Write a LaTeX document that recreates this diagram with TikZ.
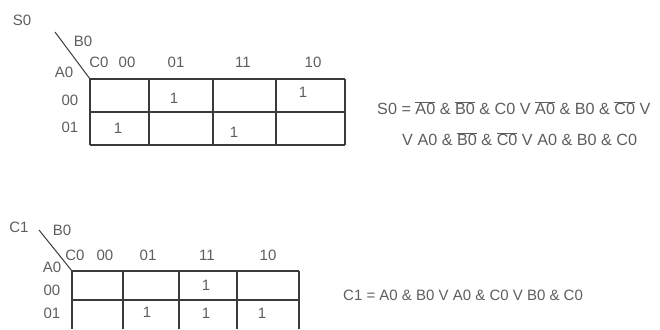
\documentclass[tikz,border=0pt]{standalone}
\usepackage{fontspec}
\setmainfont{Liberation Sans}
\definecolor{txtgray}{HTML}{5E5E5E}
\definecolor{linegray}{HTML}{3A3A3A}
\newcommand{\ov}[1]{$\overline{\mbox{#1}}$}
\tikzset{
  lbl/.style={text=txtgray, inner sep=0pt, font=\fontsize{15}{17}\selectfont},
  eqn/.style={lbl, anchor=west},
  grid line/.style={draw=linegray, line width=1.3pt}
}
\begin{document}
\begin{tikzpicture}[x=1pt, y=-1pt]
		\useasboundingbox (0,0) rectangle (660,329);
		
		% Map S0
		\node[lbl] (s0) at (22, 20) {S0};
		\coordinate (s0corner) at (90, 79);
		\draw[grid line, line width=1pt] (55, 32) -- (s0corner);
		\node[lbl] (s0b) at (83, 41) {B0};
		\node[lbl] (s0c) at (99, 62) {C0};
		\node[lbl] (s0a) at (64, 72) {A0};
		\foreach \x/\t in {127/00, 176/01, 243/11, 313/10}
			\node[lbl] (s0col\t) at (\x, 62) {\t};
		\foreach \y/\t in {100/00, 127/01}
			\node[lbl] (s0row\t) at (70, \y) {\t};
		\foreach \y in {79, 112, 145}
			\draw[grid line] (90, \y) -- (345, \y);
		\foreach \x in {90, 149, 213, 276, 345}
			\draw[grid line] (\x, 79) -- (\x, 145);
		\foreach \x/\y/\n in {174/98/a, 303/92/b, 118/128/c, 234/132/d}
			\node[lbl] (s0one\n) at (\x, \y) {1};
		\node[eqn, font=\fontsize{16.2}{18}\selectfont] (s0eqa) at (377, 108) {S0 = \ov{A0} \& \ov{B0} \& C0 V \ov{A0} \& B0 \& \ov{C0} V};
		\node[eqn, font=\fontsize{16.2}{18}\selectfont] (s0eqb) at (402, 139) {V A0 \& \ov{B0} \& \ov{C0} V A0 \& B0 \& C0};
		
		% Map C1
		\node[lbl] (c1) at (19, 227) {C1};
		\coordinate (c1corner) at (72, 271);
		\draw[grid line, line width=1pt] (39, 230) -- (c1corner);
		\node[lbl] (c1b) at (62, 230) {B0};
		\node[lbl] (c1c) at (75, 255) {C0};
		\node[lbl] (c1a) at (52, 267) {A0};
		\foreach \x/\t in {105/00, 148/01, 207/11, 268/10}
			\node[lbl] (c1col\t) at (\x, 255) {\t};
		\foreach \y/\t in {290/00, 313/01}
			\node[lbl] (c1row\t) at (52, \y) {\t};
		\foreach \y in {271, 300}
			\draw[grid line] (72, \y) -- (299, \y);
		\foreach \x in {72, 123, 179, 237, 299}
			\draw[grid line] (\x, 271) -- (\x, 329);
		\foreach \x/\y/\n in {206/285/a, 147/312/b, 206/313/c, 262/313/d}
			\node[lbl] (c1one\n) at (\x, \y) {1};
		\node[eqn] (c1eq) at (343, 295) {C1 = A0 \& B0 V A0 \& C0 V B0 \& C0};
	\end{tikzpicture}
\end{document}
